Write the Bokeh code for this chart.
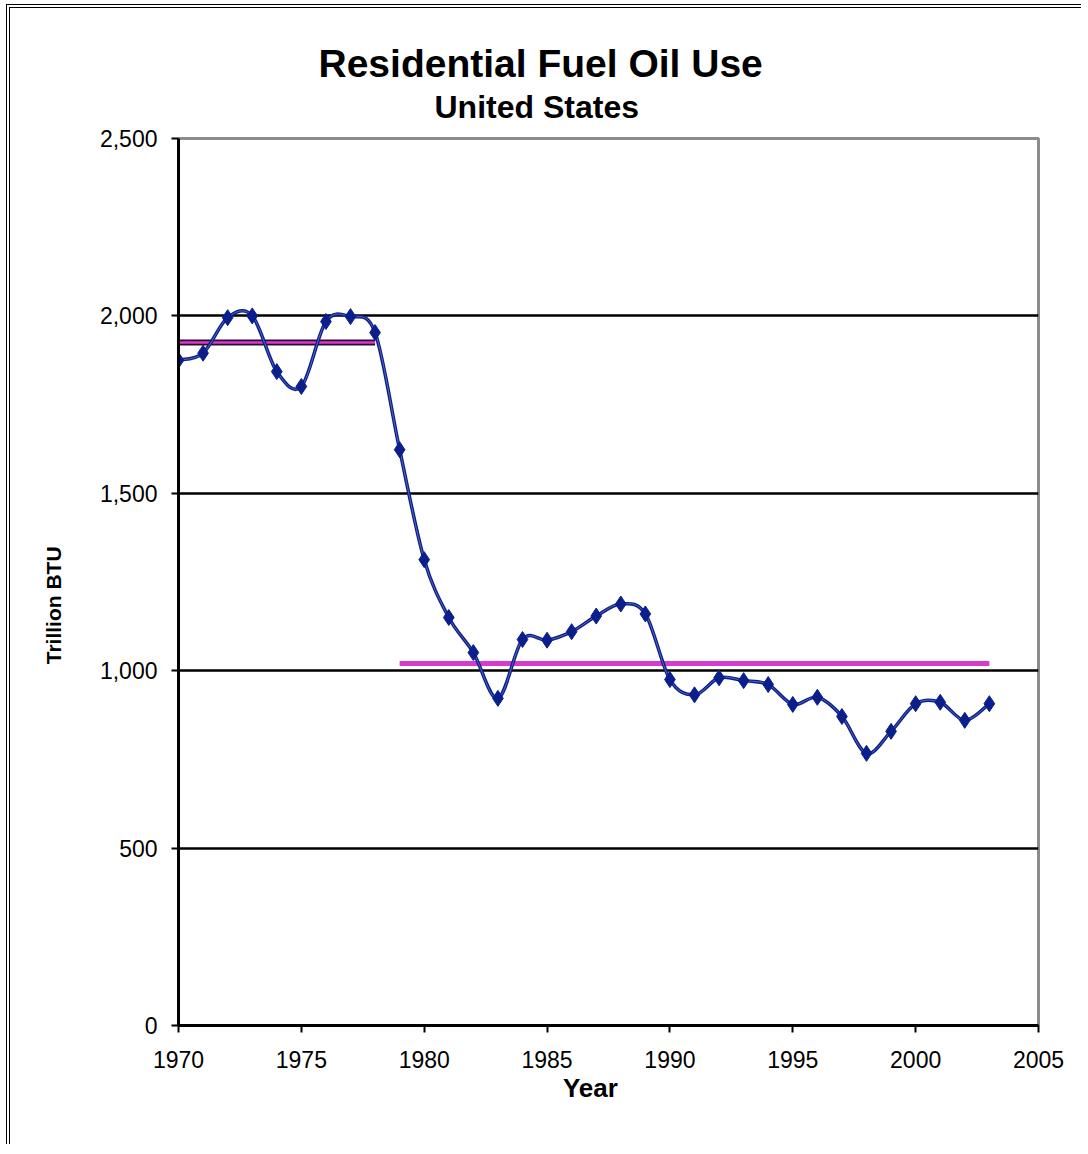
import numpy as np
from bokeh.plotting import figure
from bokeh.models import (ColumnDataSource, FixedTicker, NumeralTickFormatter,
                          Range1d, Title)
from bokeh.embed import file_html
from bokeh.resources import INLINE

# ---------------- data ----------------
years = list(range(1970, 2004))
fuel_oil = [1875, 1895, 1995, 2000, 1843, 1801, 1984, 1998, 1953,
            1623, 1313, 1150, 1051, 922, 1088, 1086, 1110, 1154, 1188, 1160,
            975, 932, 980, 972, 961, 905, 925, 871, 767, 829, 907, 911, 860, 907]

# average levels for the two periods
period1_years = [1970, 1978]
period1_level = [1925, 1925]
period2_years = [1979, 2003]
period2_level = [1020, 1020]

x_ticks = [1970, 1975, 1980, 1985, 1990, 1995, 2000, 2005]
y_ticks = [0, 500, 1000, 1500, 2000, 2500]

FONT = "Liberation Sans"
NB = "\u00a0"

# ---------------- smoothed curve (Excel-style bezier) ----------------
xs = np.array(years, dtype=float)
ys = np.array(fuel_oil, dtype=float)
xp = np.concatenate([[xs[0]], xs, [xs[-1]]])
yp = np.concatenate([[ys[0]], ys, [ys[-1]]])
n = len(xs)
seg = dict(
    x0=xs[:-1], y0=ys[:-1], x1=xs[1:], y1=ys[1:],
    cx0=xs[:-1] + (xp[2:n + 1] - xp[0:n - 1]) / 6.0,
    cy0=ys[:-1] + (yp[2:n + 1] - yp[0:n - 1]) / 6.0,
    cx1=xs[1:] - (xp[3:n + 2] - xp[1:n]) / 6.0,
    cy1=ys[1:] - (yp[3:n + 2] - yp[1:n]) / 6.0,
)
seg_src = ColumnDataSource(seg)
pts = ColumnDataSource(dict(x=years, y=fuel_oil))

# ---------------- figure ----------------
W, H = 1075, 1140
p = figure(width=W, height=H, output_backend="svg", toolbar_location=None,
           x_range=Range1d(1970, 2005), y_range=Range1d(0, 2500),
           min_border_left=168, min_border_right=47,
           min_border_top=130, min_border_bottom=123,
           background_fill_color="white", border_fill_color="white")
p.title = None
p.styles = {"border-left": "4px double black", "border-top": "4px double black",
            "margin-left": "6px", "margin-top": "4px"}

p.outline_line_color = "#8c8c8c"
p.outline_line_width = 3

# titles
sub = Title(text="United States", align="left", offset=256,
            text_font=FONT, text_font_size="32px", text_font_style="bold",
            text_color="black", standoff=28)
main = Title(text="Residential Fuel Oil Use", align="left", offset=140,
             text_font=FONT, text_font_size="39px", text_font_style="bold",
             text_color="black", standoff=-24)
p.add_layout(sub, "above")
p.add_layout(main, "above")

# grid
p.xgrid.visible = False
p.ygrid.ticker = FixedTicker(ticks=y_ticks)
p.ygrid.grid_line_color = "black"
p.ygrid.grid_line_width = 2.5

# axes
for ax in (p.xaxis[0], p.yaxis[0]):
    ax.axis_line_color = "black"
    ax.axis_line_width = 3
    ax.major_tick_line_color = "black"
    ax.major_tick_line_width = 2
    ax.major_tick_in = 0
    ax.major_tick_out = 7
    ax.minor_tick_line_color = None
    ax.major_label_text_font = FONT
    ax.major_label_text_font_size = "23px"
    ax.major_label_text_color = "black"
    ax.axis_label_text_font = FONT
    ax.axis_label_text_font_style = "bold"
    ax.axis_label_text_color = "black"

p.xaxis.ticker = FixedTicker(ticks=x_ticks)
p.xaxis.major_label_standoff = 18
p.xaxis.axis_label = "Year" + NB * 5
p.xaxis.axis_label_text_font_size = "26px"
p.xaxis.axis_label_standoff = 2

p.yaxis.ticker = FixedTicker(ticks=y_ticks)
p.yaxis.formatter = NumeralTickFormatter(format="0,0")
p.yaxis.major_label_standoff = 14
p.yaxis.axis_label = "Trillion BTU" + NB * 8
p.yaxis.axis_label_text_font_size = "21px"
p.yaxis.axis_label_standoff = 32

# average lines
p.line(period1_years, period1_level, line_color="#2a0a2a", line_width=6)
p.line(period1_years, period1_level, line_color="#d63ad0", line_width=2.5)
p.line(period2_years, period2_level, line_color="#d63ad0", line_width=5)

# smoothed series
p.bezier(x0="x0", y0="y0", x1="x1", y1="y1", cx0="cx0", cy0="cy0",
         cx1="cx1", cy1="cy1", source=seg_src, line_color="#0b1f8c", line_width=3.5)
p.bezier(x0="x0", y0="y0", x1="x1", y1="y1", cx0="cx0", cy0="cy0",
         cx1="cx1", cy1="cy1", source=seg_src, line_color="#7f8cd0", line_width=0.8,
         line_alpha=0.8)
p.scatter("x", "y", source=pts, marker="diamond", size=16,
          fill_color="#0b1f8c", line_color="#0b1f8c", line_width=1)

open("out.html", "w").write(file_html(p, INLINE))
